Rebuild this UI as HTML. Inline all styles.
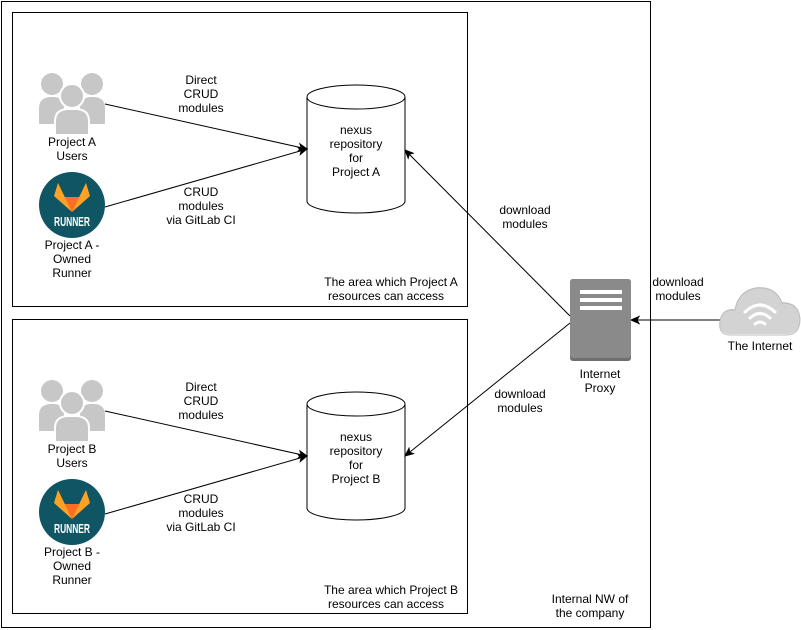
<!DOCTYPE html>
<html><head><meta charset="utf-8"><style>
html,body{margin:0;padding:0;background:#fff;}
svg{display:block;}
text{font-family:"Liberation Sans",Arial,sans-serif;font-size:12px;fill:#000;text-anchor:middle;}
</style></head><body>
<svg width="801" height="630" viewBox="0 0 801 630" xmlns="http://www.w3.org/2000/svg">
<defs>
<marker id="ar" markerWidth="10" markerHeight="10" refX="9" refY="5" orient="auto" markerUnits="userSpaceOnUse">
<path d="M1,1.5 L9,5 L1,8.5 L3,5 Z" fill="#000" stroke="#000" stroke-width="1"/>
</marker>
<g id="users">
<circle cx="52" cy="84" r="11" fill="#c7c7c7"/>
<path d="M39,124 V108 Q39,98 50,97 H55 Q64,98 64,108 V124 Z" fill="#c7c7c7"/>
<circle cx="92" cy="84" r="11" fill="#c7c7c7"/>
<path d="M80,124 V108 Q80,98 90,97 H95 Q105,98 105,108 V124 Z" fill="#c7c7c7"/>
<circle cx="72" cy="96" r="12" fill="#c7c7c7" stroke="#fff" stroke-width="2"/>
<path d="M55,135 V121 Q55,110 67,109 H77 Q89,110 89,121 V135 Z" fill="#c7c7c7" stroke="#fff" stroke-width="2"/>
</g>
<g id="runner">
<circle cx="72" cy="205" r="33" fill="#0f5564"/>
<path d="M58,183 L62,197 L72,212 Z" fill="#e24329"/>
<path d="M86,183 L82,197 L72,212 Z" fill="#e24329"/>
<path d="M62,197 L82,197 L72,212 Z" fill="#fc6d26"/>
<path d="M58,183 L54,196 L72,212 Z" fill="#fca326"/>
<path d="M86,183 L90,196 L72,212 Z" fill="#fca326"/>
<text x="72" y="226" textLength="36" lengthAdjust="spacingAndGlyphs" style="font-size:13px;font-weight:bold;fill:#fff">RUNNER</text>
</g>
<g id="cyl">
<path d="M307,97 V201 A49,12 0 0 0 405,201 V97" fill="#fff" stroke="#000"/>
<ellipse cx="356" cy="97" rx="49" ry="12" fill="#fff" stroke="#000"/>
</g>
</defs>
<rect x="1.5" y="1.5" width="649" height="626" fill="#fff" stroke="#000"/>
<rect x="12.5" y="12.5" width="455" height="294" fill="#fff" stroke="#000"/>
<rect x="12.5" y="319.5" width="455" height="294" fill="#fff" stroke="#000"/>

<use href="#users"/>
<use href="#runner"/>
<use href="#cyl"/>
<g transform="translate(0,307)"><use href="#users"/><use href="#runner"/><use href="#cyl"/></g>

<text x="72" y="146">Project A</text><text x="72" y="160">Users</text>
<text x="72" y="249">Project A -</text><text x="72" y="263">Owned</text><text x="72" y="277">Runner</text>
<text x="72" y="453">Project B</text><text x="72" y="467">Users</text>
<text x="72" y="556">Project B -</text><text x="72" y="570">Owned</text><text x="72" y="584">Runner</text>

<text x="356" y="134">nexus</text><text x="356" y="148">repository</text><text x="356" y="162">for</text><text x="356" y="176">Project A</text>
<text x="356" y="441">nexus</text><text x="356" y="455">repository</text><text x="356" y="469">for</text><text x="356" y="483">Project B</text>

<text x="201" y="84">Direct</text><text x="201" y="98">CRUD</text><text x="201" y="112">modules</text>
<text x="201" y="196">CRUD</text><text x="201" y="210">modules</text><text x="201" y="224">via GitLab CI</text>
<text x="201" y="391">Direct</text><text x="201" y="405">CRUD</text><text x="201" y="419">modules</text>
<text x="201" y="503">CRUD</text><text x="201" y="517">modules</text><text x="201" y="531">via GitLab CI</text>

<text x="391" y="286">The area which Project A</text><text x="386" y="300">resources can access</text>
<text x="391" y="594">The area which Project B</text><text x="386" y="608">resources can access</text>
<text x="525" y="214">download</text><text x="525" y="228">modules</text>
<text x="520" y="398">download</text><text x="520" y="412">modules</text>
<text x="678" y="286">download</text><text x="678" y="300">modules</text>
<text x="590" y="603">Internal NW of</text><text x="590" y="617">the company</text>

<g stroke="#000" fill="none" stroke-width="1">
<line x1="105" y1="104" x2="307" y2="149" marker-end="url(#ar)"/>
<line x1="105" y1="207" x2="307" y2="149" marker-end="url(#ar)"/>
<line x1="105" y1="411" x2="307" y2="456" marker-end="url(#ar)"/>
<line x1="105" y1="514" x2="307" y2="456" marker-end="url(#ar)"/>
<line x1="570" y1="316" x2="405" y2="150" marker-end="url(#ar)"/>
<line x1="570" y1="323" x2="405" y2="456" marker-end="url(#ar)"/>
<line x1="720" y1="320" x2="631" y2="320" marker-end="url(#ar)"/>
</g>

<rect x="570" y="279" width="61" height="82" rx="3" fill="#6f6f6f"/>
<rect x="570" y="279" width="61" height="79" rx="3" fill="#8a8a8a"/>
<rect x="580" y="290" width="42" height="4" fill="#fff"/>
<rect x="580" y="298" width="42" height="4" fill="#fff"/>
<rect x="580" y="306" width="42" height="4" fill="#fff"/>
<text x="600" y="378">Internet</text><text x="600" y="392">Proxy</text>

<path d="M730,334 Q718,334 720,320 Q722,308 735,309 Q738,290 757,287 Q776,286 782,302 Q799,302 800,318 Q800,334 786,334 Z" fill="#d3d3d3"/>
<path d="M730,335 Q718,335 720,321 Q722,309 735,310 Q738,291 757,288 Q776,287 782,303 Q799,303 800,319 Q800,335 786,335 Z" fill="none" stroke="#bdbdbd"/>
<g stroke="#fff" stroke-width="3" fill="none" stroke-linecap="round">
<path d="M745,312 Q760,298 775,312"/>
<path d="M750,318 Q760,309 770,318"/>
<path d="M755,324 Q760,320 765,324"/>
</g>
<text x="760" y="350">The Internet</text>
</svg>
</body></html>
